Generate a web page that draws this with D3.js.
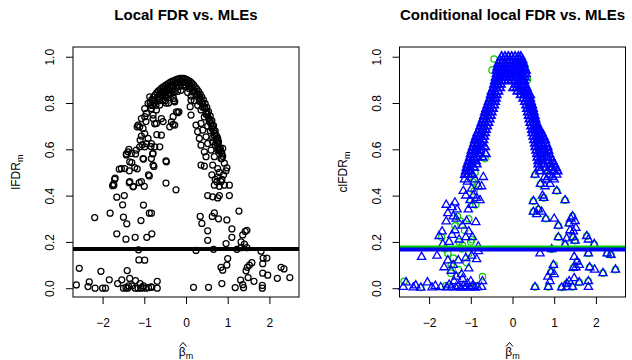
<!DOCTYPE html>
<html>
<head>
<meta charset="utf-8">
<script src="https://cdn.jsdelivr.net/npm/d3@7"></script>
<style>
  body { margin: 0; background: #fff; }
  svg text { font-family: "Liberation Sans", Arial, Helvetica, sans-serif; fill: #000; }
</style>
</head>
<body>
<div id="chart"></div>
<script>
// ---- data ----
const xTicks = [-2, -1, 0, 1, 2];
const yTicks = [0, 0.2, 0.4, 0.6, 0.8, 1.0];
const titles = ["Local FDR vs. MLEs", "Conditional local FDR vs. MLEs"];
const yNames = ["lFDR", "clFDR"];

// left panel: dense arch of lFDR values
const lfdrArch = [
  [-0.86,0.80],[-0.82,0.815],[-0.78,0.825],[-0.74,0.835],[-0.70,0.845],[-0.66,0.852],[-0.62,0.858],[-0.58,0.865],
  [-0.54,0.870],[-0.50,0.875],[-0.46,0.880],[-0.42,0.885],[-0.38,0.889],[-0.34,0.893],[-0.30,0.896],[-0.26,0.899],
  [-0.22,0.902],[-0.18,0.904],[-0.14,0.906],[-0.10,0.907],[-0.06,0.906],[-0.02,0.904],[0.02,0.901],[0.06,0.897],
  [0.10,0.892],[0.14,0.886],[0.18,0.878],[0.22,0.869],[0.26,0.860],[0.30,0.850],[0.34,0.838],[0.38,0.826],
  [0.42,0.812],[0.46,0.797],[0.50,0.781],[0.54,0.763],[0.58,0.744],[0.62,0.724],[0.66,0.702],[0.70,0.680],
  [0.74,0.656],[0.78,0.632],[0.82,0.606],[0.86,0.580],
  [-0.80,0.79],[-0.74,0.81],[-0.68,0.825],[-0.62,0.84],[-0.56,0.85],[-0.50,0.858],[-0.44,0.866],[-0.38,0.873],
  [-0.32,0.879],[-0.26,0.884],[-0.20,0.888],[-0.14,0.890],[-0.08,0.891],[-0.02,0.889],[0.04,0.884],[0.10,0.876],
  [0.16,0.865],[0.22,0.851],[0.28,0.836],[0.34,0.818],[0.40,0.798],[0.46,0.776],[0.52,0.752],[0.58,0.726],
  [0.64,0.698],[0.70,0.668],[0.76,0.636],[0.82,0.600],
  [-0.72,0.79],[-0.64,0.81],[-0.56,0.83],[-0.48,0.845],[-0.40,0.855],[-0.32,0.862],[-0.24,0.868],[-0.16,0.872],
  [-0.08,0.874],[0.00,0.871],[0.08,0.862],[0.16,0.848],[0.24,0.830],[0.32,0.808],[0.40,0.782],[0.48,0.752],
  [0.56,0.720],[0.62,0.690],[0.68,0.660],[0.74,0.628],[0.80,0.594],
  [-0.60,0.835],[-0.52,0.83],[-0.44,0.835],[-0.36,0.84],[-0.28,0.845],[-0.20,0.85],[-0.12,0.855],[0.04,0.845],
  [0.12,0.83],[-0.50,0.81],[-0.42,0.80],[-0.30,0.82],[0.20,0.81],[0.28,0.79],[0.36,0.77],[0.44,0.74],
  [0.52,0.70],[0.58,0.68],[0.64,0.65],[0.70,0.62],[0.78,0.60],[0.86,0.56],[0.92,0.54],[0.98,0.52],
  [-0.84,0.79],[-0.76,0.80],[-0.66,0.82],[-0.58,0.84],[-0.46,0.855],[-0.34,0.87],[-0.22,0.876],[-0.04,0.88],
  [0.08,0.875],[0.18,0.855],[0.26,0.84],[0.32,0.825],[0.38,0.80],[0.44,0.78],[0.50,0.76],[0.54,0.735],
  [0.60,0.71],[0.66,0.68],[0.72,0.645],[0.76,0.62],[0.84,0.59],[0.88,0.57]
];

// left panel: scattered lFDR values
const lfdrScatter = [
  [-0.87,0.827],[-0.79,0.813],[-0.91,0.798],[-0.83,0.776],[-0.99,0.776],[-0.95,0.755],[-0.79,0.748],[-0.71,0.77],
  [-0.63,0.791],[-0.55,0.813],[-0.47,0.827],[-0.39,0.841],[-0.31,0.849],[-0.27,0.805],[-0.23,0.762],[-0.17,0.762],
  [-0.31,0.741],[-0.35,0.719],[-0.27,0.705],[-0.39,0.697],[-0.59,0.733],[-0.71,0.712],[-0.79,0.733],[-0.99,0.741],
  [-1.07,0.733],[-1.15,0.705],[-1.11,0.697],[-1.03,0.69],[-0.99,0.668],[-1.07,0.657],[-0.91,0.647],[-0.95,0.625],
  [-0.83,0.625],[-0.99,0.611],[-0.75,0.611],[-0.63,0.611],[-0.59,0.661],[-1.11,0.611],[-1.19,0.597],[-1.39,0.589],
  [-1.43,0.575],[-1.31,0.582],[-1.35,0.546],[-1.03,0.56],[-0.79,0.582],[-0.83,0.56],[-0.79,0.532],[-0.47,0.546],
  [-1.47,0.517],[-1.23,0.521],[-1.55,0.517],
  [0.12,0.813],[0.10,0.784],[0.12,0.748],[0.24,0.705],[0.36,0.712],[0.28,0.676],[0.40,0.683],[0.32,0.647],
  [0.48,0.654],[0.36,0.618],[0.52,0.625],[0.64,0.632],[0.76,0.647],[0.44,0.589],[0.60,0.597],[0.76,0.597],
  [0.88,0.604],[0.48,0.568],[0.68,0.568],[0.84,0.56],[0.36,0.532],[0.44,0.527],[0.64,0.532],[0.76,0.517],[0.96,0.507],
  [0.62,0.49],[0.70,0.47],[0.76,0.48],[0.80,0.50],[0.86,0.47],[0.90,0.49],[0.74,0.46],[0.84,0.46],
  [0.68,0.445],[0.80,0.44],[0.92,0.445],[1.04,0.445],[0.52,0.40],[0.64,0.395],[0.76,0.39],[0.80,0.40],
  [1.04,0.40],[1.27,0.333],[0.34,0.31],[0.38,0.28],[0.63,0.31],[0.68,0.325],[0.78,0.30],[0.98,0.295],
  [0.52,0.248],[0.52,0.207],[0.96,0.193],[1.10,0.22],[1.10,0.256],[1.32,0.20],[1.36,0.23],[1.42,0.245],
  [1.46,0.25],[1.40,0.19],[1.46,0.175],[1.32,0.175],[0.24,0.163],[0.66,0.168],[1.22,0.168],[1.80,0.16],
  [1.85,0.13],[0.84,0.09],[0.88,0.078],[0.98,0.10],[1.00,0.128],[1.47,0.09],[1.52,0.10],[1.58,0.11],
  [1.44,0.075],[1.84,0.106],[1.84,0.065],[1.96,0.056],[2.19,0.043],[2.28,0.09],[2.35,0.083],[2.49,0.046],
  [0.18,0.004],[0.54,0.004],[0.86,0.02],[1.18,0.003],[1.31,0.035],[1.36,0.015],[1.38,0.002],[1.49,0.046],
  [1.63,0.03],[1.83,0.0],[1.83,0.012],[1.94,0.13],
  [-2.63,0.014],[-2.56,0.086],[-2.35,0.007],[-2.32,0.027],[-2.18,0.0],[-2.04,0.073],[-2.0,0.0],[-1.93,0.0],
  [-1.84,0.036],[-1.64,0.02],[-1.54,0.036],[-1.50,0.0],[-1.44,0.002],[-1.40,0.0],[-1.38,0.01],[-1.41,0.076],
  [-1.35,0.042],[-1.22,0.0],[-1.15,0.0],[-1.08,0.0],[-1.04,0.002],[-0.96,0.0],[-0.90,0.003],[-0.82,0.004],
  [-0.69,0.0],[-1.21,0.033],[-1.13,0.122],[-0.99,0.121],[-1.02,0.01],[-0.84,0.006],[-0.69,0.03],[-1.14,0.166],
  [-1.30,0.01],[-1.10,0.02],
  [-2.19,0.305],[-1.82,0.324],[-1.66,0.235],[-1.44,0.212],[-1.50,0.307],[-1.42,0.278],[-1.22,0.22],[-1.08,0.292],
  [-0.94,0.22],[-0.82,0.235],[-0.88,0.324],[-0.83,0.324],[-1.02,0.359],[-1.52,0.36],[-1.66,0.393],[-1.48,0.40],
  [-1.76,0.443],[-1.74,0.45],[-1.36,0.456],[-1.26,0.44],[-1.12,0.456],[-1.00,0.44],[-0.48,0.454],[-0.24,0.425],
  [-1.70,0.476],[-1.60,0.514],[-1.36,0.507],[-1.17,0.516],[-1.43,0.58],[-1.37,0.60],[-1.30,0.543],[-1.21,0.58],
  [-1.02,0.558],[-0.90,0.49],[-0.77,0.526],[-0.84,0.612],[-0.80,0.58],[-0.70,0.663],[-0.48,0.55],[-1.10,0.64],
  [-1.05,0.62],[-1.17,0.697],[-0.96,0.72],[-0.75,0.71],[-0.55,0.72],[-0.31,0.708],[-0.29,0.81],[-0.20,0.758],
  [-0.48,0.80],[-0.88,0.485],[-1.71,0.47],[-1.73,0.445],[-1.35,0.46],[-1.27,0.438],[-1.07,0.46]
];
const lfdrCut = 0.169;

// right panel: blue triangles (clFDR), dense top and legs
const clfdrBlueDense = [
  [-0.26,1.0],[-0.18,1.0],[-0.10,1.0],[-0.02,1.0],[0.06,1.0],[0.14,1.0],[0.20,1.0],
  [-0.30,0.985],[-0.22,0.985],[-0.14,0.985],[-0.06,0.985],[0.02,0.985],[0.10,0.985],[0.18,0.985],[0.24,0.985],
  [-0.34,0.97],[-0.26,0.97],[-0.18,0.97],[-0.10,0.97],[-0.02,0.97],[0.06,0.97],[0.14,0.97],[0.22,0.97],[0.26,0.97],
  [-0.36,0.955],[-0.28,0.955],[-0.20,0.955],[-0.12,0.955],[-0.04,0.955],[0.04,0.955],[0.12,0.955],[0.20,0.955],[0.28,0.955],
  [-0.38,0.94],[-0.30,0.94],[-0.22,0.94],[-0.14,0.94],[-0.06,0.94],[0.02,0.94],[0.10,0.94],[0.18,0.94],[0.26,0.94],[0.32,0.94],
  [-0.38,0.925],[-0.30,0.925],[-0.22,0.925],[-0.14,0.925],[-0.06,0.925],[0.02,0.925],[0.10,0.925],[0.18,0.925],[0.26,0.925],[0.32,0.925],
  [-0.40,0.91],[-0.32,0.91],[-0.24,0.91],[-0.16,0.91],[-0.08,0.91],[0.00,0.91],[0.08,0.91],[0.16,0.91],[0.24,0.91],[0.30,0.91],
  [-0.42,0.895],[-0.34,0.895],[-0.26,0.895],[-0.18,0.895],[-0.10,0.895],[-0.02,0.895],[0.06,0.895],[0.14,0.895],[0.22,0.895],[0.28,0.895],
  [-0.44,0.88],[-0.36,0.88],[-0.28,0.88],[0.08,0.88],[0.16,0.88],[0.24,0.88],[0.30,0.88],
  [-0.46,0.865],[-0.38,0.865],[-0.30,0.865],[-0.50,0.85],[-0.42,0.85],[-0.34,0.85],[-0.52,0.835],[-0.44,0.835],[-0.38,0.835],
  [-0.54,0.82],[-0.46,0.82],[-0.40,0.82],[-0.57,0.805],[-0.49,0.805],[-0.42,0.805],[-0.60,0.79],[-0.52,0.79],[-0.44,0.79],
  [-0.63,0.775],[-0.55,0.775],[-0.47,0.775],[-0.66,0.76],[-0.58,0.76],[-0.50,0.76],[-0.68,0.745],[-0.60,0.745],[-0.52,0.745],
  [-0.71,0.73],[-0.63,0.73],[-0.55,0.73],[-0.74,0.715],[-0.66,0.715],[-0.58,0.715],[-0.77,0.70],[-0.69,0.70],[-0.61,0.70],
  [-0.80,0.685],[-0.72,0.685],[-0.64,0.685],[-0.84,0.67],[-0.75,0.67],[-0.66,0.67],[-0.87,0.655],[-0.78,0.655],[-0.68,0.655],
  [-0.90,0.64],[-0.81,0.64],[-0.70,0.64],[-0.92,0.625],[-0.84,0.625],[-0.74,0.625],[-0.95,0.61],[-0.86,0.61],[-0.76,0.61],[-0.66,0.61],
  [-0.98,0.595],[-0.88,0.595],[-0.78,0.595],[-1.00,0.58],[-0.90,0.58],[-0.80,0.58],[-0.64,0.58],
  [-1.02,0.565],[-0.94,0.565],[-0.84,0.565],[-0.72,0.565],[-1.05,0.55],[-0.96,0.55],[-0.88,0.55],
  [-1.08,0.535],[-0.98,0.535],[-0.86,0.535],[-1.10,0.52],[-1.02,0.52],[-0.92,0.52],[-1.12,0.505],[-1.04,0.505],
  [-1.14,0.49],[-1.06,0.49],[-0.96,0.49],
  [0.02,0.865],[0.10,0.865],[0.18,0.865],[0.26,0.865],[0.34,0.865],[0.12,0.85],[0.20,0.85],[0.28,0.85],[0.36,0.85],
  [0.20,0.835],[0.28,0.835],[0.36,0.835],[0.42,0.835],[0.26,0.82],[0.34,0.82],[0.42,0.82],[0.30,0.805],[0.37,0.805],[0.44,0.805],
  [0.33,0.79],[0.40,0.79],[0.47,0.79],[0.35,0.775],[0.42,0.775],[0.49,0.775],[0.37,0.76],[0.44,0.76],[0.51,0.76],
  [0.39,0.745],[0.46,0.745],[0.53,0.745],[0.41,0.73],[0.48,0.73],[0.55,0.73],[0.43,0.715],[0.50,0.715],[0.57,0.715],
  [0.45,0.70],[0.52,0.70],[0.59,0.70],[0.47,0.685],[0.54,0.685],[0.61,0.685],[0.66,0.685],
  [0.48,0.67],[0.56,0.67],[0.64,0.67],[0.70,0.67],[0.50,0.655],[0.58,0.655],[0.66,0.655],[0.74,0.655],
  [0.52,0.64],[0.60,0.64],[0.68,0.64],[0.78,0.64],[0.54,0.625],[0.62,0.625],[0.70,0.625],[0.80,0.625],
  [0.55,0.61],[0.64,0.61],[0.74,0.61],[0.84,0.61],[0.57,0.595],[0.66,0.595],[0.76,0.595],[0.86,0.595],
  [0.59,0.58],[0.68,0.58],[0.80,0.58],[0.88,0.58],[0.60,0.565],[0.70,0.565],[0.82,0.565],[0.92,0.565],
  [0.62,0.55],[0.72,0.55],[0.86,0.55],[0.96,0.55],[0.62,0.535],[0.76,0.535],[0.90,0.535],[1.00,0.535],
  [0.64,0.52],[0.80,0.52],[0.94,0.52],[1.04,0.52],[0.66,0.505],[0.84,0.505],[0.98,0.505],[1.08,0.505]
];

// right panel: scattered blue triangles
const clfdrBlueScatter = [
  [-2.62,0.005],[-2.55,0.025],[-2.38,0.003],[-2.32,0.012],[-2.20,0.002],[-2.04,0.025],[-1.93,0.003],[-1.85,0.01],
  [-1.72,0.004],[-1.58,0.003],[-1.52,0.015],[-1.46,0.004],[-1.40,0.03],[-1.36,0.003],[-1.30,0.01],[-1.24,0.002],
  [-1.18,0.008],[-1.12,0.003],[-1.08,0.02],[-1.02,0.003],[-0.96,0.01],[-0.90,0.002],[-0.84,0.004],[-0.74,0.005],[-0.72,0.03],
  [-2.18,0.135],[-1.81,0.14],[-1.64,0.09],[-1.55,0.12],[-1.47,0.075],[-1.42,0.10],[-1.35,0.05],[-1.30,0.12],
  [-1.22,0.06],[-1.12,0.13],[-1.05,0.085],[-0.98,0.14],[-0.86,0.125],[-0.82,0.16],[-1.20,0.04],[-1.00,0.03],
  [-1.67,0.19],[-1.76,0.225],[-1.69,0.245],[-1.59,0.288],[-1.52,0.20],[-1.45,0.23],[-1.38,0.25],[-1.28,0.21],
  [-1.20,0.27],[-1.12,0.22],[-1.05,0.245],[-0.96,0.22],[-0.88,0.285],[-0.82,0.18],[-1.35,0.30],[-1.10,0.29],
  [-1.59,0.36],[-1.55,0.324],[-1.45,0.35],[-1.42,0.31],[-1.33,0.34],[-1.38,0.37],[-1.18,0.42],[-1.12,0.40],
  [-1.08,0.46],[-1.02,0.38],[-0.98,0.43],[-0.94,0.40],[-0.90,0.47],[-0.86,0.39],[-0.82,0.44],[-0.78,0.38],
  [-1.06,0.34],[-0.96,0.36],[-1.15,0.47],[-0.74,0.44],[-0.70,0.48],
  [0.54,0.49],[0.77,0.48],[0.82,0.47],[0.88,0.49],[0.95,0.48],[1.00,0.47],[1.06,0.49],[0.67,0.45],
  [0.78,0.44],[0.90,0.45],[1.06,0.42],[1.26,0.38],[0.75,0.39],[0.72,0.40],[0.50,0.376],[0.50,0.33],
  [0.62,0.34],[0.58,0.32],[0.70,0.33],[0.80,0.30],[1.00,0.30],[1.10,0.27],[1.36,0.28],[1.40,0.30],
  [1.44,0.31],[1.50,0.29],[1.38,0.25],[1.46,0.245],[1.52,0.26],[1.10,0.22],[1.30,0.215],[1.45,0.22],
  [1.50,0.205],[1.78,0.225],[1.82,0.21],[1.96,0.19],[1.26,0.188],[0.94,0.168],[0.66,0.15],[1.82,0.15],
  [1.48,0.135],[1.55,0.115],[1.60,0.10],[1.52,0.09],[2.27,0.15],[2.36,0.144],[0.98,0.10],[0.92,0.07],
  [0.85,0.05],[0.90,0.03],[1.00,0.06],[1.46,0.088],[1.85,0.09],[1.97,0.08],[2.17,0.065],[2.47,0.08],
  [0.54,0.005],[0.86,0.005],[1.18,0.003],[1.30,0.004],[1.36,0.03],[1.30,0.02],[1.44,0.005],[1.60,0.025],
  [1.82,0.005],[1.82,0.03],[1.48,0.043]
];

// right panel: green circles (mostly hidden under the triangles)
const clfdrGreen = [
  [-0.49,0.942],[-0.44,0.99],[-0.58,0.80],[-0.70,0.70],[-0.82,0.62],[-0.66,0.56],[-0.98,0.54],[-0.90,0.50],
  [0.30,0.955],[0.36,0.90],[0.50,0.72],[0.62,0.60],[0.72,0.56],[0.90,0.52],
  [-1.70,0.22],[-1.62,0.17],[-1.55,0.15],[-1.47,0.10],[-1.48,0.065],[-1.38,0.27],[-1.32,0.31],[-1.28,0.20],
  [-1.22,0.17],[-1.20,0.185],[-1.15,0.25],[-1.10,0.11],[-1.05,0.30],[-1.05,0.15],[-1.00,0.20],[-0.98,0.21],
  [-1.00,0.38],[-0.95,0.46],[-0.88,0.36],[-0.72,0.05],[-1.42,0.13],[-1.30,0.08],[-1.25,0.29],[-0.92,0.42],
  [-0.85,0.45],[-2.60,0.03],[-2.20,0.003],[-1.60,0.01],[-1.10,0.005],[-0.88,0.01],
  [0.54,0.005],[0.86,0.005],[1.18,0.003],[1.30,0.02],[1.44,0.005],[1.60,0.025],[1.82,0.03],[0.92,0.07],
  [1.00,0.10],[1.46,0.088],[1.55,0.115],[1.85,0.09],[2.17,0.065],[2.47,0.08],[2.27,0.15],[2.36,0.144],
  [1.82,0.15],[0.94,0.168],[1.26,0.188],[1.50,0.205],[1.96,0.19],[1.78,0.225],[1.45,0.22],[1.10,0.22],
  [1.36,0.28],[1.44,0.31],[1.10,0.27],[0.80,0.30],[0.62,0.34],[0.50,0.33],[0.50,0.376],[1.26,0.38],
  [1.06,0.42],[0.75,0.39],[0.67,0.45],[0.54,0.49],[0.88,0.49]
];
const clfdrCutGreen = 0.176;
const clfdrCutBlue = 0.167;

// ---- drawing ----
const W = 632, H = 360;
const GREEN = "#00cd00", BLUE = "#0000ff";

const svg = d3.select("#chart").append("svg")
  .attr("width", W)
  .attr("height", H);

const panels = [
  { left: 73, right: 299, title: titles[0], yName: yNames[0] },
  { left: 399.5, right: 625.5, title: titles[1], yName: yNames[1] }
];
const plotTop = 47, plotBottom = 297;

const tri = d3.symbol().type(d3.symbolTriangle).size(30);

function drawPanel(p, drawMarks) {
  const x = d3.scaleLinear().domain([-2.71, 2.71]).range([p.left, p.right]);
  const y = d3.scaleLinear().domain([-0.038, 1.042]).range([plotBottom, plotTop]);
  const cx = (p.left + p.right) / 2;

  // titel
  svg.append("text")
    .attr("x", cx).attr("y", 20)
    .attr("text-anchor", "middle")
    .style("font-size", "15px").style("font-weight", "bold")
    .text(p.title);

  // punten en lijnen
  const g = svg.append("g");
  drawMarks(g, x, y);

  // kader
  svg.append("rect")
    .attr("x", p.left).attr("y", plotTop)
    .attr("width", p.right - p.left).attr("height", plotBottom - plotTop)
    .attr("fill", "none").attr("stroke", "#000").attr("stroke-width", 1);

  // x-as
  const xa = svg.append("g")
    .attr("transform", `translate(0,${plotBottom})`)
    .call(d3.axisBottom(x).tickValues(xTicks).tickSize(7).tickFormat(d3.format("d")));
  xa.select(".domain").remove();
  xa.selectAll("text").attr("y", 30).attr("dy", 0).style("font-size", "12px");
  xa.selectAll("line").attr("stroke", "#000");

  // y-as
  const ya = svg.append("g")
    .attr("transform", `translate(${p.left},0)`)
    .call(d3.axisLeft(y).tickValues(yTicks).tickSize(7).tickFormat(d3.format(".1f")));
  ya.select(".domain").remove();
  ya.selectAll("line").attr("stroke", "#000");
  ya.selectAll("text")
    .attr("transform", "rotate(-90)")
    .attr("x", 0).attr("y", -19).attr("dy", 0)
    .attr("text-anchor", "middle")
    .style("font-size", "12px");

  // y-label
  const yl = svg.append("text")
    .attr("transform", `translate(${p.left - 53},${(plotTop + plotBottom) / 2}) rotate(-90)`)
    .attr("text-anchor", "middle")
    .style("font-size", "12px");
  yl.append("tspan").text(p.yName);
  yl.append("tspan").attr("dy", 3).style("font-size", "9px").text("m");

  // x-label: beta met index m, dakje als lijntje erboven
  const xl = svg.append("text")
    .attr("x", cx).attr("y", 356)
    .attr("text-anchor", "middle")
    .style("font-size", "12px");
  xl.append("tspan").text("β");
  xl.append("tspan").attr("dy", 3).style("font-size", "9px").text("m");
  svg.append("path")
    .attr("d", `M${cx - 6.5},346.5L${cx - 3},342.5L${cx + 0.5},346.5`)
    .attr("fill", "none").attr("stroke", "#000").attr("stroke-width", 1);
}

drawPanel(panels[0], (g, x, y) => {
  g.selectAll("circle.p")
    .data(lfdrArch.concat(lfdrScatter))
    .join("circle")
    .attr("cx", d => x(d[0])).attr("cy", d => y(d[1]))
    .attr("r", 3.0)
    .attr("fill", "none").attr("stroke", "#000").attr("stroke-width", 1.25);
  g.append("line")
    .attr("x1", x.range()[0]).attr("x2", x.range()[1])
    .attr("y1", y(lfdrCut)).attr("y2", y(lfdrCut))
    .attr("stroke", "#000").attr("stroke-width", 4);
});

drawPanel(panels[1], (g, x, y) => {
  g.selectAll("circle.g")
    .data(clfdrGreen)
    .join("circle")
    .attr("cx", d => x(d[0])).attr("cy", d => y(d[1]))
    .attr("r", 3.2)
    .attr("fill", "none").attr("stroke", GREEN).attr("stroke-width", 1.25);
  g.selectAll("path.bd")
    .data(clfdrBlueDense)
    .join("path")
    .attr("d", tri)
    .attr("transform", d => `translate(${x(d[0])},${y(d[1])})`)
    .attr("fill", "none").attr("stroke", BLUE).attr("stroke-width", 1.7);
  g.selectAll("path.bs")
    .data(clfdrBlueScatter)
    .join("path")
    .attr("d", tri)
    .attr("transform", d => `translate(${x(d[0])},${y(d[1])})`)
    .attr("fill", "none").attr("stroke", BLUE).attr("stroke-width", 1.3);
  g.append("line")
    .attr("x1", x.range()[0]).attr("x2", x.range()[1])
    .attr("y1", y(clfdrCutGreen)).attr("y2", y(clfdrCutGreen))
    .attr("stroke", GREEN).attr("stroke-width", 4);
  g.append("line")
    .attr("x1", x.range()[0]).attr("x2", x.range()[1])
    .attr("y1", y(clfdrCutBlue)).attr("y2", y(clfdrCutBlue))
    .attr("stroke", BLUE).attr("stroke-width", 4);
});
</script>
</body>
</html>
